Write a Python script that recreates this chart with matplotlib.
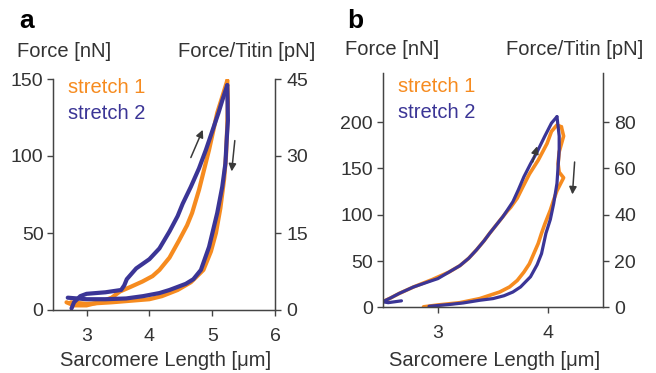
import numpy as np
import matplotlib
matplotlib.use('Agg')
import matplotlib.pyplot as plt

plt.rcParams['font.family'] = ['Liberation Sans', 'DejaVu Sans']

W, H = 656, 373
orange = '#F68B1F'
blue = '#3B3596'
gray = '#333333'

# panel a, stretch 1 (orange)
a1_load_x = [2.68, 2.8, 3.0, 3.2, 3.4, 3.53, 3.7, 3.89, 4.05, 4.16, 4.32, 4.47, 4.6, 4.68, 4.79, 4.95, 5.08, 5.18, 5.24]
a1_load_y = [5, 3, 3, 5, 8, 12, 15, 18.5, 22, 26, 34, 45, 55, 63, 78, 104, 128, 141, 149]
a1_unload_x = [5.24, 5.25, 5.24, 5.22, 5.19, 5.13, 5.06, 4.98, 4.86, 4.66, 4.45, 4.2, 4.0, 3.7, 3.4, 3.0, 2.75]
a1_unload_y = [149, 135, 120, 100, 85, 66, 50, 38, 26, 18, 13, 9, 7, 6, 5, 4, 5]
# panel a, stretch 2 (blue)
a2_load_x = [2.76, 2.8, 2.9, 3.0, 3.3, 3.55, 3.6, 3.64, 3.79, 4.0, 4.16, 4.32, 4.45, 4.53, 4.66, 4.79, 4.9, 5.0, 5.1, 5.16, 5.24]
a2_load_y = [1, 5, 9, 10.5, 11.5, 13, 16, 20, 27, 33, 40, 51, 61, 69, 80, 92, 104, 116, 128, 136, 146]
a2_unload_x = [5.24, 5.25, 5.23, 5.21, 5.16, 5.08, 4.95, 4.82, 4.7, 4.58, 4.32, 4.16, 3.9, 3.63, 3.3, 3.0, 2.7]
a2_unload_y = [146, 123, 110, 95, 80, 63, 41, 26, 20, 17, 13, 11, 9, 7.5, 7, 7, 8]

# panel b, stretch 1 (orange)
b1_load_x = [2.5, 2.57, 2.65, 2.78, 2.95, 3.1, 3.2, 3.28, 3.35, 3.42, 3.47, 3.53, 3.59, 3.63, 3.66, 3.72, 3.77, 3.83, 3.91, 3.99, 4.03, 4.08, 4.12]
b1_load_y = [6, 10, 15, 22, 30, 38, 45, 53, 62, 72, 80, 89, 98, 104, 108, 118, 130, 144, 159, 177, 190, 197, 195]
b1_unload_x = [4.12, 4.14, 4.1, 4.09, 4.1, 4.14, 4.08, 4.05, 4.02, 3.97, 3.94, 3.91, 3.87, 3.83, 3.78, 3.72, 3.65, 3.56, 3.38, 3.2, 3.0, 2.87]
b1_unload_y = [195, 185, 168, 155, 146, 140, 126, 116, 105, 90, 80, 69, 58, 47, 38, 29, 22, 16.5, 9.4, 5, 2.5, 0.5]
# panel b, stretch 2 (blue)
b2_load_x = [2.67, 2.55, 2.5, 2.57, 2.65, 2.78, 2.95, 3.0, 3.1, 3.2, 3.28, 3.35, 3.42, 3.47, 3.53, 3.59, 3.63, 3.68, 3.73, 3.78, 3.84, 3.9, 3.97, 4.03, 4.08]
b2_load_y = [7, 5, 6, 10, 15, 22, 29, 31, 38, 45, 53, 62, 72, 80, 89, 98, 105, 114, 127, 141, 155, 168, 185, 199, 206]
b2_unload_x = [4.08, 4.1, 4.1, 4.08, 4.05, 4.02, 3.98, 3.94, 3.9, 3.84, 3.75, 3.68, 3.6, 3.5, 3.38, 3.23, 3.1, 2.92]
b2_unload_y = [206, 185, 170, 134, 112, 95, 80, 58, 46, 33, 22, 16.5, 12.5, 9.4, 7.6, 4.7, 3, 1.1]

# arrows (tail, head) in data units
a_arrows = [((4.66, 99), (4.85, 117)), ((5.36, 110), (5.31, 90))]
b_arrows = [((3.86, 157), (3.9, 174)), ((4.24, 157), (4.22, 122))]


def fx(px):
    return px / W


def fy(py):
    return 1 - py / H


fig = plt.figure(figsize=(6.56, 3.73), dpi=100)


def panel(rect, xlim, ylim, xticks, yticks, rticks, factor, data, arrows):
    ax = fig.add_axes(rect)
    for (lx, ly, ux, uy, c, lw) in data:
        ax.plot(lx, ly, c=c, lw=lw, solid_capstyle='round', solid_joinstyle='round')
        ax.plot(ux, uy, c=c, lw=lw, solid_capstyle='round', solid_joinstyle='round')
    for (t, h) in arrows:
        ax.annotate('', xy=h, xytext=t,
                    arrowprops=dict(arrowstyle='-|>', color='#3a3a3a', lw=1.1,
                                    mutation_scale=11, shrinkA=0, shrinkB=0))
    ax.set_xlim(*xlim)
    ax.set_ylim(*ylim)
    ax.set_xticks(xticks)
    ax.set_yticks(yticks)
    ax.spines['top'].set_visible(False)
    for s in ['left', 'bottom', 'right']:
        ax.spines[s].set_color('#444444')
        ax.spines[s].set_linewidth(1)
    ax.tick_params(axis='both', direction='out', length=4, width=1, color='#444444',
                   labelsize=14, labelcolor=gray)
    ax.tick_params(axis='x', pad=9)
    ax.tick_params(axis='y', pad=3)
    ax2 = ax.twinx()
    ax2.set_ylim(ylim[0] / factor, ylim[1] / factor)
    ax2.set_yticks(rticks)
    ax2.spines['top'].set_visible(False)
    for s in ['left', 'bottom', 'right']:
        ax2.spines[s].set_color('#444444')
    ax2.tick_params(axis='y', direction='out', length=4, width=1, color='#444444',
                    labelsize=14, labelcolor=gray, pad=4)
    return ax


panel([fx(53.3), fy(310), fx(275) - fx(53.3), fy(79) - fy(310)],
      (2.47, 6), (0, 150), [3, 4, 5, 6], [0, 50, 100, 150], [0, 15, 30, 45], 150 / 45,
      [(a1_load_x, a1_load_y, a1_unload_x, a1_unload_y, orange, 3.0),
       (a2_load_x, a2_load_y, a2_unload_x, a2_unload_y, blue, 3.0)], a_arrows)

panel([fx(382.7), fy(307.3), fx(603.3) - fx(382.7), fy(72.7) - fy(307.3)],
      (2.5, 4.5), (0, 253.5), [3, 4], [0, 50, 100, 150, 200], [0, 20, 40, 60, 80], 2.5,
      [(b1_load_x, b1_load_y, b1_unload_x, b1_unload_y, orange, 2.6),
       (b2_load_x, b2_load_y, b2_unload_x, b2_unload_y, blue, 2.3)], b_arrows)

# texts
fs = 14.5
fig.text(fx(19), fy(28), 'a', fontsize=19, fontweight='bold', color='black')
fig.text(fx(347), fy(28), 'b', fontsize=19, fontweight='bold', color='black')
fig.text(fx(17), fy(57), 'Force [nN]', fontsize=fs, color=gray)
fig.text(fx(315), fy(57), 'Force/Titin [pN]', fontsize=fs, color=gray, ha='right')
fig.text(fx(345), fy(55), 'Force [nN]', fontsize=fs, color=gray)
fig.text(fx(643), fy(55), 'Force/Titin [pN]', fontsize=fs, color=gray, ha='right')
fig.text(fx(166), fy(366), 'Sarcomere Length [\u03bcm]', fontsize=fs, color=gray, ha='center')
fig.text(fx(495), fy(366), 'Sarcomere Length [\u03bcm]', fontsize=fs, color=gray, ha='center')
fig.text(fx(68), fy(93), 'stretch 1', fontsize=fs, color=orange)
fig.text(fx(68), fy(119), 'stretch 2', fontsize=fs, color=blue)
fig.text(fx(398), fy(91.5), 'stretch 1', fontsize=fs, color=orange)
fig.text(fx(398), fy(118), 'stretch 2', fontsize=fs, color=blue)

fig.savefig('out.png', dpi=100)
